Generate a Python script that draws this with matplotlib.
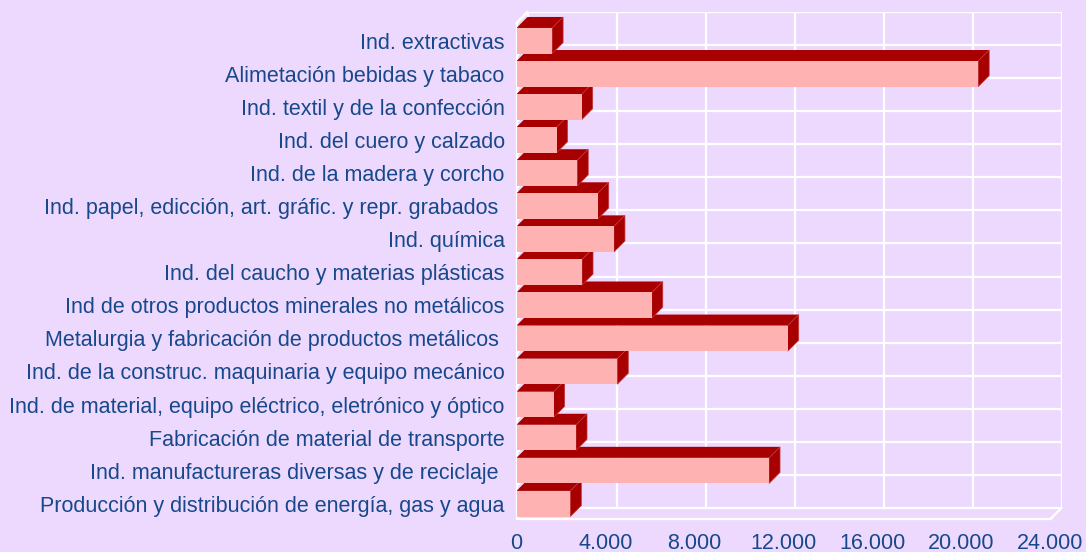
import matplotlib
matplotlib.use('Agg')
import matplotlib.pyplot as plt
from matplotlib.patches import Polygon

# categories listed top to bottom as in the original chart
categories = [
    'Ind. extractivas',
    'Alimetación bebidas y tabaco',
    'Ind. textil y de la confección',
    'Ind. del cuero y calzado',
    'Ind. de la madera y corcho',
    'Ind. papel, edicción, art. gráfic. y repr. grabados ',
    'Ind. química',
    'Ind. del caucho y materias plásticas',
    'Ind de otros productos minerales no metálicos',
    'Metalurgia y fabricación de productos metálicos ',
    'Ind. de la construc. maquinaria y equipo mecánico',
    'Ind. de material, equipo eléctrico, eletrónico y óptico',
    'Fabricación de material de transporte',
    'Ind. manufactureras diversas y de reciclaje ',
    'Producción y distribución de energía, gas y agua',
]
values = [1600, 20750, 2930, 1800, 2730, 3650, 4380, 2945, 6080,
          12190, 4530, 1670, 2675, 11350, 2420]
x_ticks = [0, 4000, 8000, 12000, 16000, 20000, 24000]

BG = '#EDD9FE'
FRONT = '#FFB2B2'
DARK = '#A80000'
TEXT = '#17488C'
GRID = 'white'

plt.rcParams['font.family'] = ['Liberation Sans', 'DejaVu Sans']

fig = plt.figure(figsize=(10.86, 5.52), dpi=100, facecolor=BG)
n = len(categories)
xmax = x_ticks[-1]

# depth of the fake 3D box (11 px) in data units
dx = 11 / (534 / xmax)
dy = 11 / (496 / n)

ax = fig.add_axes([516.5 / 1086, 33 / 552, 545 / 1086, 507 / 552])
ax.set_xlim(0, xmax + dx)
ax.set_ylim(0, n + dy)
ax.set_facecolor('none')
for s in ax.spines.values():
    s.set_visible(False)

lw = 1.6
# back wall grid
for t in x_ticks:
    ax.plot([t + dx, t + dx], [dy, n + dy], color=GRID, lw=lw, zorder=1,
            solid_capstyle='butt')
for k in range(n + 1):
    ax.plot([dx, xmax + dx], [k + dy, k + dy], color=GRID, lw=lw, zorder=1,
            solid_capstyle='butt')
    # left wall
    ax.plot([0, dx], [k, k + dy], color=GRID, lw=lw, zorder=1)
# box edges
ax.plot([0, 0], [0, n], color=GRID, lw=lw, zorder=1, clip_on=False)
ax.plot([0, xmax], [0, 0], color=GRID, lw=lw, zorder=1, clip_on=False)
ax.plot([xmax, xmax + dx], [0, dy], color=GRID, lw=lw, zorder=1, clip_on=False)
ax.plot([0, dx], [n, n + dy], color=GRID, lw=lw, zorder=1, clip_on=False)

# bars, bottom row first so upper bars sit in front of lower top faces
b0, b1 = 0.075, 0.85
for i, v in enumerate(reversed(values)):
    z = 2 + i
    y0, y1 = i + b0, i + b1
    top = [(0, y1), (dx, y1 + dy), (v + dx, y1 + dy), (v, y1)]
    side = [(v, y0), (v, y1), (v + dx, y1 + dy), (v + dx, y0 + dy)]
    front = [(0, y0), (0, y1), (v, y1), (v, y0)]
    ax.add_patch(Polygon(top, closed=True, fc=DARK, ec='none', zorder=z))
    ax.add_patch(Polygon(side, closed=True, fc=DARK, ec='#C03A3A', lw=0.5, zorder=z))
    ax.add_patch(Polygon(front, closed=True, fc=FRONT, ec='none', zorder=z))

ax.set_yticks([k + (b0 + b1) / 2 for k in range(n)])
ax.set_yticklabels(list(reversed(categories)))
ax.set_xticks(x_ticks)
ax.set_xticklabels([f'{t:,}'.replace(',', '.') for t in x_ticks])
ax.tick_params(axis='both', length=0, labelsize=15.5, labelcolor=TEXT)
ax.tick_params(axis='y', pad=8.5)
ax.tick_params(axis='x', pad=10)

fig.savefig('out.png', dpi=100, facecolor=BG)
